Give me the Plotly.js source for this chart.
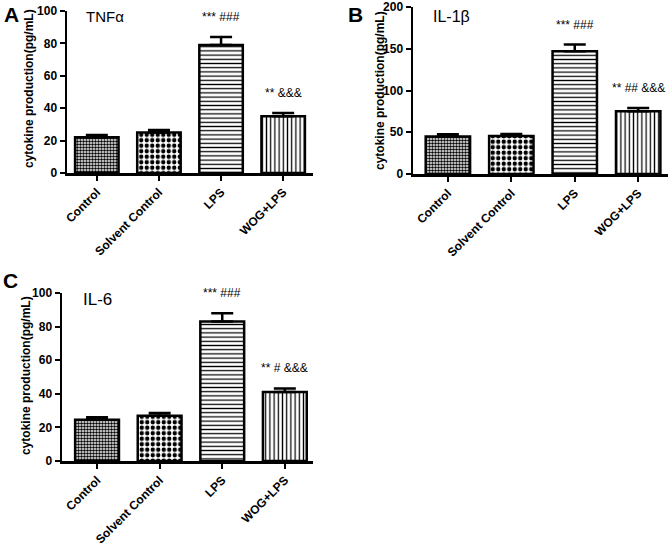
<!DOCTYPE html>
<html>
<head>
<meta charset="utf-8">
<script src="https://cdn.plot.ly/plotly-3.0.1.min.js"></script>
<style>html,body{margin:0;padding:0;background:#fff}#chart{width:671px;height:545px}</style>
</head>
<body>
<div id="chart"></div>
<script>
const categories = ["Control", "Solvent Control", "LPS", "WOG+LPS"];
const tnfValues = [22, 25, 79, 35];
const tnfErrors = [1.5, 1.5, 5, 2];
const il1bValues = [45, 45.5, 147, 75];
const il1bErrors = [2.5, 2.5, 8, 4];
const il6Values = [24.5, 27, 83, 41];
const il6Errors = [1.5, 1.5, 5, 2.2];
const tnfMarks = ["", "", "*** ###", "** &&&"];
const il1bMarks = ["", "", "*** ###", "** ## &&&"];
const il6Marks = ["", "", "*** ###", "** # &&&"];
const panelTitles = ["TNFα", "IL-1β", "IL-6"];
const panelLetters = ["A", "B", "C"];
const yTitle = "cytokine production(pg/mL)";

const FONT = "Liberation Sans, Arial, sans-serif";
const patterns = [
  {shape: ".", size: 3, solidity: 0.55},
  {shape: ".", size: 5.5, solidity: 0.5},
  {shape: "-", size: 4.2, solidity: 0.3},
  {shape: "|", size: 4.2, solidity: 0.3}
];

function barTraces(vals, errs, xa, ya) {
  return categories.map((c, i) => ({
    type: "bar",
    x: [c], y: [vals[i]],
    xaxis: xa, yaxis: ya,
    width: 0.7,
    marker: {
      color: "white",
      line: {color: "black", width: 2.5},
      pattern: Object.assign({fgcolor: "black", bgcolor: "white", fillmode: "replace"}, patterns[i])
    },
    error_y: {type: "data", symmetric: false, array: [errs[i]], arrayminus: [0], color: "black", thickness: 2.5, width: 11},
    showlegend: false,
    hoverinfo: "skip"
  }));
}

const data = [].concat(
  barTraces(tnfValues, tnfErrors, "x", "y"),
  barTraces(il1bValues, il1bErrors, "x2", "y2"),
  barTraces(il6Values, il6Errors, "x3", "y3")
);

function xAxis(domain, range, anchor) {
  return {
    domain: domain, range: range, anchor: anchor, type: "category",
    showline: true, linecolor: "black", linewidth: 2.5,
    ticks: "outside", ticklen: 5, tickwidth: 2, tickcolor: "black",
    tickangle: -45, showgrid: false, zeroline: false, fixedrange: true,
    ticklabeloverflow: "allow",
    tickfont: {family: FONT, size: 12, color: "black", weight: "bold"}
  };
}
function yAxis(domain, range, dtick, anchor) {
  return {
    domain: domain, range: range, anchor: anchor, dtick: dtick,
    showline: true, linecolor: "black", linewidth: 2.5,
    ticks: "outside", ticklen: 5, tickwidth: 2, tickcolor: "black",
    showgrid: false, zeroline: false, fixedrange: true,
    ticklabeloverflow: "allow",
    tickfont: {family: FONT, size: 12, color: "black", weight: "bold"}
  };
}

const annotations = [];
function addMarks(marks, vals, errs, xr, yr) {
  marks.forEach((t, i) => {
    if (!t) return;
    annotations.push({x: categories[i], y: vals[i] + errs[i], xref: xr, yref: yr,
      text: t, showarrow: false, yanchor: "bottom", yshift: 11,
      font: {family: FONT, size: 12, color: "black"}});
  });
}
addMarks(tnfMarks, tnfValues, tnfErrors, "x", "y");
addMarks(il1bMarks, il1bValues, il1bErrors, "x2", "y2");
addMarks(il6Marks, il6Values, il6Errors, "x3", "y3");

const titlePos = [[84, 16], [431, 16], [81, 299]];
const titleSizes = [15, 16, 17];
titlePos.forEach((p, i) => {
  annotations.push({x: p[0] / 671, y: 1 - p[1] / 545, xref: "paper", yref: "paper",
    xanchor: "left", yanchor: "middle", text: panelTitles[i], showarrow: false,
    font: {family: FONT, size: titleSizes[i], color: "black"}});
});
const letterPos = [[2, 14], [346, 14], [1, 280]];
letterPos.forEach((p, i) => {
  annotations.push({x: p[0] / 671, y: 1 - p[1] / 545, xref: "paper", yref: "paper",
    xanchor: "left", yanchor: "middle", text: panelLetters[i], showarrow: false,
    font: {family: FONT, size: 21, color: "black", weight: "bold"}});
});
const yTitlePos = [[29, 89], [380, 91], [26, 376]];
yTitlePos.forEach((p) => {
  annotations.push({x: p[0] / 671, y: 1 - p[1] / 545, xref: "paper", yref: "paper",
    xanchor: "center", yanchor: "middle", text: yTitle, textangle: -90, showarrow: false,
    font: {family: FONT, size: 12, color: "black", weight: "bold"}});
});

const layout = {
  width: 671, height: 545,
  margin: {l: 0, r: 0, t: 0, b: 0},
  paper_bgcolor: "white", plot_bgcolor: "white",
  xaxis: xAxis([67 / 671, 313 / 671], [-0.48, 3.48], "y"),
  yaxis: yAxis([1 - 173 / 545, 1 - 11 / 545], [0, 100], 20, "x"),
  xaxis2: xAxis([413 / 671, 668 / 671], [-0.55, 3.47], "y2"),
  yaxis2: yAxis([1 - 174 / 545, 1 - 7 / 545], [0, 200], 50, "x2"),
  xaxis3: xAxis([62 / 671, 313 / 671], [-0.56, 3.45], "y3"),
  yaxis3: yAxis([1 - 461 / 545, 1 - 293 / 545], [0, 100], 20, "x3"),
  annotations: annotations,
  font: {family: FONT, color: "black"}
};

Plotly.newPlot("chart", data, layout, {displayModeBar: false, staticPlot: true});
</script>
</body>
</html>
